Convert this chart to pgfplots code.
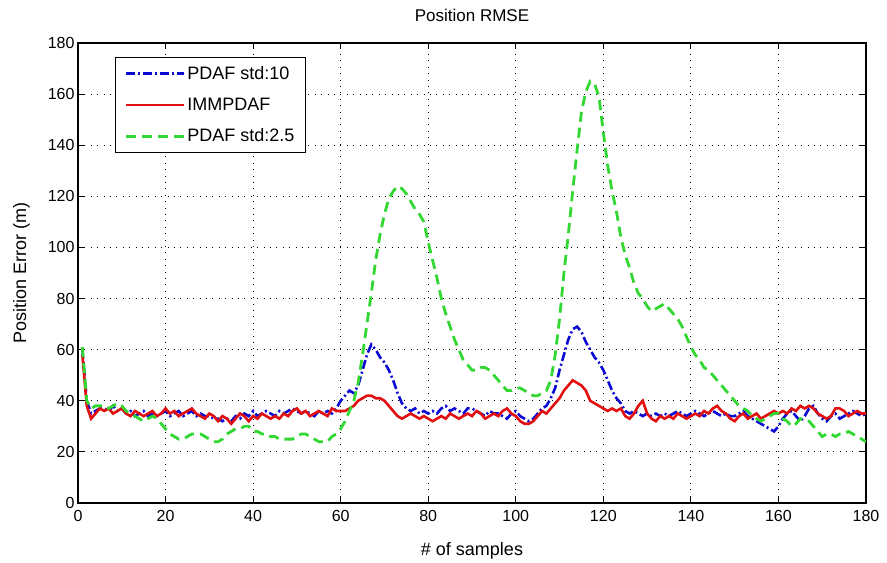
\documentclass[border=0pt]{standalone}
\usepackage{pgfplots}
\pgfplotsset{compat=1.18}
\usepackage{pgfplotstable}
\usepackage{fontspec}
\setmainfont{Liberation Sans}
\definecolor{mblue}{RGB}{10,10,210}
\definecolor{mred}{RGB}{225,15,15}
\definecolor{mgreen}{RGB}{50,215,50}

\pgfplotstableread{
x blue red green
1 60 58 61
2 40 38 40
3 35 33 37
4 36 35 38
5 37 37 38
6 37 36 38
7 36 37 37
8 38 35 38
9 36 36 39
10 37 37 38
11 35 35 36
12 36 34 35
13 34 36 34
14 35 35 33
15 36 34 32
16 34 35 33
17 35 36 34
18 34 34 33
19 35 35 31
20 36 37 29
21 34 35 27
22 35 36 26
23 36 34 25
24 34 35 25
25 35 36 26
26 36 37 27
27 34 35 27
28 35 34 27
29 34 33 26
30 34 35 25
31 33 34 24
32 33 32 24
33 32 34 25
34 33 33 27
35 32 31 28
36 34 33 29
37 33 35 29
38 35 34 30
39 34 32 30
40 36 34 28
41 34 33 28
42 35 35 27
43 36 34 27
44 35 33 26
45 34 34 26
46 36 33 25
47 35 35 25
48 36 34 25
49 37 36 25
50 36 37 26
51 35 35 27
52 36 36 27
53 35 34 26
54 34 35 25
55 36 36 24
56 35 35 24
57 36 34 24
58 35 37 26
59 37 36 27
60 40 36 29
61 42 36 32
62 44 37 36
63 43 38 40
64 46 40 47
65 52 41 58
66 58 42 70
67 62 42 82
68 60 41 95
69 57 41 105
70 55 40 113
71 52 38 119
72 48 36 122
73 43 34 124
74 39 33 123
75 37 34 121
76 36 35 118
77 37 34 115
78 35 33 113
79 36 34 110
80 35 33 102
81 36 32 95
82 35 33 88
83 37 34 80
84 38 33 74
85 36 35 69
86 37 34 64
87 36 33 60
88 35 34 56
89 37 35 54
90 37 34 52
91 36 36 52
92 35 35 53
93 34 33 53
94 36 34 52
95 35 35 50
96 35 34 48
97 34 36 46
98 33 37 44
99 35 35 44
100 36 34 45
101 34 32 45
102 33 31 44
103 32 31 43
104 33 32 42
105 35 34 42
106 37 36 43
107 38 35 44
108 41 37 48
109 45 39 58
110 52 41 72
111 58 44 90
112 64 46 105
113 68 48 122
114 69 47 138
115 67 46 153
116 63 44 161
117 60 40 165
118 57 39 164
119 55 38 159
120 52 37 145
121 48 36 132
122 44 37 122
123 41 36 114
124 39 37 104
125 36 34 97
126 35 33 92
127 36 35 86
128 35 38 82
129 34 40 80
130 35 35 77
131 34 33 75
132 35 32 76
133 34 34 77
134 35 33 78
135 34 34 76
136 35 33 74
137 36 35 72
138 35 34 69
139 34 33 65
140 35 34 61
141 36 35 58
142 35 34 56
143 34 36 53
144 35 35 52
145 36 37 50
146 35 38 48
147 34 36 46
148 35 35 44
149 34 33 42
150 34 32 40
151 35 34 38
152 36 35 37
153 34 33 36
154 33 34 34
155 32 35 33
156 31 33 32
157 30 34 33
158 29 35 34
159 28 36 35
160 30 35 35
161 33 36 33
162 35 35 32
163 36 37 30
164 34 36 31
165 32 38 33
166 34 37 32
167 37 38 32
168 38 37 30
169 35 35 28
170 33 34 26
171 32 33 27
172 34 34 27
173 35 37 26
174 33 37 27
175 34 36 27
176 35 34 28
177 36 35 27
178 35 36 26
179 34 35 25
180 35 35 24
}\datatable

\begin{document}
\begin{tikzpicture}
\begin{axis}[
  name=ax,
  scale only axis,
  width=788bp, height=460bp,
  xmin=0, xmax=180, ymin=0, ymax=180,
  xtick={0,20,...,180}, ytick={0,20,...,180},
  tick pos=both, tick align=inside,
  major tick length=6bp,
  axis line style={line width=1.2bp, black},
  every tick/.style={black, line width=1bp},
  grid=major,
  major grid style={black, line width=0.8bp, dash pattern=on 0.9bp off 5.5bp},
  /pgf/number format/assume math mode=true,
  ticklabel style={font=\fontsize{16bp}{18bp}\selectfont},
  xticklabel style={yshift=-4bp},
  label style={font=\fontsize{18bp}{20bp}\selectfont},
  xlabel={\# of samples},
  ylabel={Position Error (m)},
  xlabel style={yshift=-14bp},
  ylabel style={yshift=11bp},
  title={Position RMSE},
  title style={font=\fontsize{17bp}{19bp}\selectfont, yshift=12bp},
  legend cell align=left,
  legend style={at={(axis description cs:0,1)}, anchor=north west,
    xshift=37bp, yshift=-14bp,
    font=\fontsize{18bp}{20bp}\selectfont,
    draw=black, line width=1bp, row sep=13bp, inner xsep=9bp, inner ysep=7bp,
    nodes={inner sep=2bp}},
  legend image code/.code={\draw[#1] (0bp,0bp) -- (58bp,0bp);},
]
\addplot[mblue, line width=2.6bp, dash pattern=on 9bp off 3bp on 2bp off 3bp] table[x=x, y=blue] {\datatable};
\addlegendentry{PDAF std:10}
\addplot[mred, line width=2.6bp] table[x=x, y=red] {\datatable};
\addlegendentry{IMMPDAF}
\addplot[mgreen, line width=2.8bp, dash pattern=on 10bp off 6bp] table[x=x, y=green] {\datatable};
\addlegendentry{PDAF std:2.5}
\end{axis}
\path (ax.south west) ++(-78bp,-59bp) rectangle ([shift={(21bp,43bp)}]ax.north east);
\end{tikzpicture}
\end{document}
